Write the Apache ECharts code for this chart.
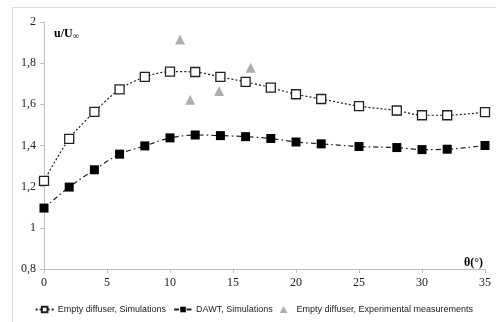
<!DOCTYPE html>
<html><head><meta charset="utf-8">
<script src="https://cdn.jsdelivr.net/npm/echarts@6/dist/echarts.min.js"></script>
<style>html,body{margin:0;padding:0;background:#fff}#c{width:496px;height:322px}</style>
</head><body><div id="c"></div>
<script>
var thetaSim = [0, 2, 4, 6, 8, 10, 12, 14, 16, 18, 20, 22, 25, 28, 30, 32, 35];
var emptySim = [1.228, 1.432, 1.563, 1.673, 1.733, 1.759, 1.757, 1.733, 1.709, 1.681, 1.649, 1.626, 1.591, 1.570, 1.547, 1.547, 1.562];
var dawtSim = [1.096, 1.198, 1.282, 1.358, 1.398, 1.437, 1.451, 1.448, 1.443, 1.434, 1.417, 1.408, 1.395, 1.390, 1.380, 1.382, 1.400];
var thetaExp = [10.8, 11.6, 13.9, 16.4];
var emptyExp = [1.915, 1.622, 1.665, 1.778];
var seriesNames = ['Empty diffuser, Simulations', 'DAWT, Simulations', 'Empty diffuser, Experimental measurements'];

function pairs(xs, ys) { return xs.map(function (x, i) { return [x, ys[i]]; }); }
var serif = "'Liberation Serif', 'DejaVu Serif', serif";
var chart = echarts.init(document.getElementById('c'));
chart.setOption({
  animation: false,
  backgroundColor: '#fff',
  graphic: [{
    type: 'rect', shape: { x: 12.5, y: 7.5, width: 500, height: 400 },
    style: { fill: 'none', stroke: '#d9d9d9', lineWidth: 1 }, silent: true, z: -1
  }],
  title: [{
    text: '{a|u/U}{b|∞}', left: 49, top: 21,
    textStyle: { rich: {
      a: { fontFamily: serif, fontWeight: 'bold', fontSize: 12, color: '#000' },
      b: { fontFamily: serif, fontSize: 9, color: '#000', padding: [6, 0, 0, 0] }
    } }
  }, {
    text: 'θ(°)', left: 459, top: 252,
    textStyle: { fontFamily: serif, fontWeight: 'bold', fontSize: 12, color: '#000' }
  }],
  grid: { left: 44, right: 11, top: 22, bottom: 53 },
  xAxis: {
    type: 'value', min: 0, max: 35, interval: 5,
    axisLine: { lineStyle: { color: '#bfbfbf' } },
    axisTick: { show: true, length: 4, lineStyle: { color: '#bfbfbf' } },
    splitLine: { show: false },
    axisLabel: { fontFamily: serif, fontSize: 12, color: '#222', margin: 8 }
  },
  yAxis: {
    type: 'value', min: 0.8, max: 2, interval: 0.2,
    axisLine: { show: true, lineStyle: { color: '#bfbfbf' } },
    axisTick: { show: true, length: 4, lineStyle: { color: '#bfbfbf' } },
    splitLine: { show: false },
    axisLabel: { fontFamily: serif, fontSize: 12, color: '#222', margin: 8,
      formatter: function (v) { return String(+v.toFixed(1)).replace('.', ','); } }
  },
  legend: {
    top: 300, right: 18, itemGap: 7, itemWidth: 18, itemHeight: 7,
    textStyle: { fontFamily: "'Liberation Sans', sans-serif", fontSize: 9, color: '#222', padding: [0, 0, 0, -1] },
    data: [
      { name: seriesNames[0] },
      { name: seriesNames[1] },
      { name: seriesNames[2], icon: 'path://M5,0 L10,9 L0,9 Z' }
    ]
  },
  series: [{
    name: seriesNames[0], type: 'line', data: pairs(thetaSim, emptySim),
    smooth: 0.3, symbol: 'rect', symbolSize: 9,
    lineStyle: { color: '#222', width: 1.2, type: [2, 2] },
    itemStyle: { color: '#fff', borderColor: '#222', borderWidth: 1.3 }
  }, {
    name: seriesNames[1], type: 'line', data: pairs(thetaSim, dawtSim),
    smooth: 0.3, symbol: 'rect', symbolSize: 9,
    lineStyle: { color: '#222', width: 1.2, type: [5, 3, 1.5, 3] },
    itemStyle: { color: '#000', borderColor: '#000', borderWidth: 0 }
  }, {
    name: seriesNames[2], type: 'scatter', data: pairs(thetaExp, emptyExp),
    symbol: 'triangle', symbolSize: 10,
    itemStyle: { color: '#9a9a9a' }
  }]
});
</script></body></html>
